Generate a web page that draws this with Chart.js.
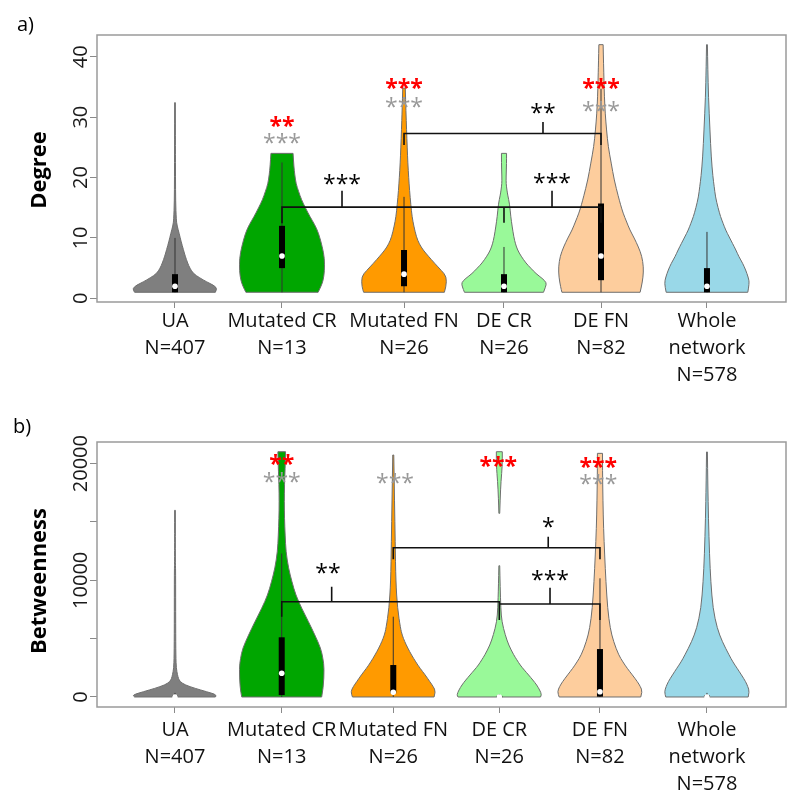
<!DOCTYPE html>
<html>
<head>
<meta charset="utf-8">
<script src="https://cdn.jsdelivr.net/npm/chart.js@4.4.1/dist/chart.umd.min.js"></script>
<style>
  body { margin: 0; background: #fff; width: 800px; height: 800px; position: relative; overflow: hidden; }
  canvas { position: absolute; left: 0; }
</style>
</head>
<body>
<canvas id="degreeChart" width="800" height="400" style="top:0"></canvas>
<canvas id="betweenChart" width="800" height="400" style="top:400px"></canvas>
<script>
// groups
const groupLabels = [
  ["UA", "N=407"],
  ["Mutated CR", "N=13"],
  ["Mutated FN", "N=26"],
  ["DE CR", "N=26"],
  ["DE FN", "N=82"],
  ["Whole", "network", "N=578"],
];
const groupColors = ["#7f7f7f", "#00a600", "#ff9a00", "#99f999", "#fdcd9d", "#99d8e8"];

// Degree: density profiles [value, relative width]
const degreeUA = [[1, 0.95], [1.6, 1.0], [2.2, 0.9], [2.7, 0.75], [3.4, 0.58], [4.1, 0.43], [5, 0.35], [5.8, 0.3], [7, 0.24], [8, 0.2], [9.5, 0.14], [10.7, 0.1], [12, 0.05], [13, 0.03], [16, 0.015], [20, 0.012], [25, 0.01], [32.4, 0.008]];
const degreeCR = [[1, 0.85], [2, 0.92], [3, 0.97], [4.5, 1.0], [6.6, 1.0], [8.5, 0.95], [10.8, 0.86], [12.2, 0.77], [13.5, 0.66], [15, 0.55], [16.3, 0.46], [17.7, 0.39], [19, 0.33], [20.5, 0.3], [21.8, 0.28], [24, 0.26]];
const degreeFN = [[1, 0.95], [1.9, 0.99], [3.6, 1.0], [4.6, 0.88], [5.8, 0.72], [7, 0.57], [8, 0.45], [9, 0.36], [10.2, 0.29], [12, 0.23], [13.5, 0.19], [15.5, 0.16], [17.9, 0.13], [20, 0.11], [22.4, 0.09], [25, 0.075], [27.9, 0.06], [31, 0.045], [34.8, 0.03]];
const degreeDECR = [[1, 0.93], [1.9, 0.98], [2.6, 1.0], [3.3, 0.9], [4.1, 0.75], [5, 0.63], [5.8, 0.52], [7, 0.4], [8, 0.32], [9, 0.27], [10.2, 0.23], [12, 0.19], [13.5, 0.16], [15.7, 0.13], [17, 0.09], [17.9, 0.07], [19, 0.05], [20.1, 0.05], [22.4, 0.06], [24, 0.06]];
const degreeDEFN = [[1, 0.92], [1.9, 0.95], [3.5, 0.99], [5.2, 1.0], [7, 0.96], [8.5, 0.88], [10, 0.78], [11.3, 0.68], [12.7, 0.6], [14.1, 0.52], [15.5, 0.46], [16.8, 0.41], [19.6, 0.31], [22.4, 0.24], [25.1, 0.17], [27.9, 0.13], [30.5, 0.1], [33.4, 0.08], [36, 0.07], [38.9, 0.06], [42, 0.05]];
const degreeWhole = [[1, 0.96], [2.5, 1.0], [3.5, 0.97], [4.7, 0.91], [5.8, 0.84], [6.9, 0.75], [8, 0.68], [9.1, 0.6], [10.2, 0.52], [11.3, 0.44], [12.4, 0.38], [13.5, 0.32], [15, 0.26], [16.8, 0.2], [18.5, 0.17], [20.1, 0.14], [23.4, 0.1], [27.9, 0.07], [33.4, 0.035], [38, 0.02], [42, 0.01]];
const degreeQ1 = [1, 5, 2, 1, 3, 1];
const degreeQ3 = [4, 12, 8, 4, 15.7, 5];
const degreeMedian = [2, 7, 4, 2, 7, 2];
const degreeWhiskerLow = [1, 1, 1, 1, 1, 1];
const degreeWhiskerHigh = [10, 22.5, 16.8, 8.5, 34.7, 11];
const degreeTicks = [0, 10, 20, 30, 40];

// Betweenness: density profiles [value, relative width]
const betweenUA = [[0, 0.95], [170, 1.0], [457, 0.74], [743, 0.47], [1030, 0.24], [1314, 0.12], [1600, 0.08], [1885, 0.06], [2460, 0.03], [3500, 0.02], [6000, 0.016], [11000, 0.015], [11500, 0.008], [16000, 0.008]];
const betweenCR = [[0, 0.94], [800, 0.98], [2460, 1.0], [3300, 0.97], [4170, 0.92], [5313, 0.78], [6454, 0.63], [7600, 0.47], [8740, 0.33], [9880, 0.24], [11030, 0.16], [12450, 0.1], [13880, 0.08], [15300, 0.065], [16740, 0.06], [18200, 0.065], [19600, 0.08], [21020, 0.09]];
const betweenFN = [[0, 0.96], [457, 1.0], [900, 0.94], [1314, 0.86], [1900, 0.75], [2460, 0.63], [3000, 0.53], [3600, 0.43], [4200, 0.34], [4740, 0.27], [5300, 0.21], [5890, 0.17], [7600, 0.1], [9880, 0.06], [13310, 0.045], [16740, 0.03], [20740, 0.012]];
const betweenDECR = [[0, 0.97], [170, 1.0], [600, 0.95], [1030, 0.88], [1450, 0.79], [1885, 0.69], [2300, 0.59], [2740, 0.49], [3200, 0.41], [3600, 0.34], [4456, 0.22], [5313, 0.14], [6450, 0.06], [7600, 0.035], [9500, 0.02], [11250, 0.01], [11300, 0], [15700, 0], [15740, 0.01], [17000, 0.02], [18500, 0.04], [19800, 0.07], [21020, 0.07]];
const betweenDEFN = [[0, 0.96], [457, 1.0], [900, 0.95], [1314, 0.88], [1900, 0.76], [2460, 0.64], [3000, 0.54], [3600, 0.44], [4740, 0.32], [5890, 0.24], [7600, 0.18], [9880, 0.14], [12170, 0.11], [14460, 0.085], [16740, 0.07], [19600, 0.06], [20880, 0.06]];
const betweenWhole = [[0, 0.97], [457, 1.0], [900, 0.96], [1314, 0.91], [1900, 0.81], [2460, 0.71], [3000, 0.61], [3600, 0.52], [4740, 0.36], [5890, 0.24], [7600, 0.14], [9880, 0.09], [12170, 0.06], [15310, 0.035], [18170, 0.02], [21000, 0.01]];
const betweenQ1 = [0, 170, 320, 0, 30, 0];
const betweenQ3 = [150, 5116, 2740, 100, 4110, 150];
const betweenMedian = [0, 2031, 400, 0, 450, 0];
const betweenWhiskerLow = [0, 0, 0, 0, 0, 0];
const betweenWhiskerHigh = [350, 12300, 6880, 250, 10170, 350];
const betweenTicks = [0, 5000, 10000, 15000, 20000];
const betweenTickLabels = ["0", "", "10000", "", "20000"];

// layout (x axis units 0..10)
const degreeXPos = [1.132, 2.685, 4.456, 5.907, 7.315, 8.853];
const betweenXPos = [1.132, 2.681, 4.300, 5.839, 7.300, 8.853];
const violinHalfWidth = 0.617;

// significance brackets: horizontal [x1, x2, y], vertical [x, y1, y2]
const degreeLinesH = [[2.685, 7.315, 15.1], [4.456, 7.315, 27.3]];
const degreeLinesV = [[2.685, 15.1, 12.45], [5.907, 15.1, 12.5], [7.315, 15.1, 12.5], [3.556, 15.1, 17.8], [6.604, 15.1, 17.8], [4.456, 27.3, 25.4], [7.315, 27.3, 25.4], [6.473, 27.3, 29.2]];
const degreeStars = [
  [3.556, 19.6, "***", "#000"], [6.604, 19.9, "***", "#000"], [6.473, 31.5, "**", "#000"],
  [2.685, 29.2, "**", "#ff0000"], [2.685, 26.5, "***", "#999"],
  [4.456, 35.6, "***", "#ff0000"], [4.456, 32.4, "***", "#999"],
  [7.315, 35.6, "***", "#ff0000"], [7.315, 31.8, "***", "#999"],
];
const betweenLinesH = [[2.681, 5.839, 8167], [5.839, 7.300, 7970], [4.300, 7.300, 12795]];
const betweenLinesV = [[2.681, 8167, 6882], [5.839, 8167, 6599], [7.300, 7970, 6599], [3.406, 8167, 9453], [6.575, 7970, 9367], [4.300, 12795, 11800], [7.300, 12795, 11800], [6.549, 12795, 13738]];
const betweenStars = [
  [3.353, 11055, "**", "#000"], [6.575, 10455, "***", "#000"], [6.549, 14972, "*", "#000"],
  [2.681, 20311, "**", "#ff0000"], [2.681, 18794, "***", "#999"],
  [4.325, 18743, "***", "#999"],
  [5.823, 20165, "***", "#ff0000"],
  [7.276, 20114, "***", "#ff0000"], [7.276, 18657, "***", "#999"],
];

function smoothThrough(ctx, pts) {
  for (let i = 1; i < pts.length - 1; i++) {
    const mx = (pts[i][0] + pts[i + 1][0]) / 2;
    const my = (pts[i][1] + pts[i + 1][1]) / 2;
    ctx.quadraticCurveTo(pts[i][0], pts[i][1], mx, my);
  }
  const last = pts[pts.length - 1];
  ctx.lineTo(last[0], last[1]);
}

function drawViolin(ctx, ys, cx, profile, halfW, color) {
  const runs = [];
  let cur = [];
  profile.forEach(p => {
    if (p[1] > 0) cur.push(p);
    else { if (cur.length) runs.push(cur); cur = []; }
  });
  if (cur.length) runs.push(cur);
  runs.forEach(run => {
    const right = run.map(([v, d]) => [cx + d * halfW, ys.getPixelForValue(v)]);
    const left = run.map(([v, d]) => [cx - d * halfW, ys.getPixelForValue(v)]).reverse();
    ctx.beginPath();
    ctx.moveTo(left[left.length - 1][0], left[left.length - 1][1]);
    ctx.lineTo(right[0][0], right[0][1]);
    smoothThrough(ctx, right);
    ctx.lineTo(left[0][0], left[0][1]);
    smoothThrough(ctx, left);
    ctx.closePath();
    ctx.fillStyle = color;
    ctx.fill();
    ctx.strokeStyle = "#6e6e6e";
    ctx.lineWidth = 1;
    ctx.stroke();
  });
}

function starText(ctx, text, cx, cy) {
  const m = ctx.measureText(text);
  const base = cy + (m.actualBoundingBoxAscent - m.actualBoundingBoxDescent) / 2;
  ctx.fillText(text, cx, base);
}

function makePlugin(cfg) {
  return {
    id: "violins",
    beforeDatasetsDraw(chart) {
      const { ctx, scales: { x, y } } = chart;
      const halfW = x.getPixelForValue(violinHalfWidth) - x.getPixelForValue(0);
      ctx.save();
      cfg.profiles.forEach((prof, i) => {
        drawViolin(ctx, y, x.getPixelForValue(cfg.xPos[i]), prof, halfW, groupColors[i]);
      });
      cfg.xPos.forEach((xp, i) => {
        const cx = x.getPixelForValue(xp);
        ctx.strokeStyle = "#333";
        ctx.lineWidth = 1;
        ctx.beginPath();
        ctx.moveTo(cx, y.getPixelForValue(cfg.wLow[i]));
        ctx.lineTo(cx, y.getPixelForValue(cfg.wHigh[i]));
        ctx.stroke();
        const t = y.getPixelForValue(cfg.q3[i]);
        const b = y.getPixelForValue(cfg.q1[i]);
        ctx.fillStyle = "#000";
        ctx.fillRect(cx - 3, t, 6, Math.max(b - t, 1.5));
      });
      ctx.restore();
    },
    afterDatasetsDraw(chart) {
      const { ctx, scales: { x, y } } = chart;
      ctx.save();
      ctx.strokeStyle = "#111";
      ctx.lineWidth = 1.6;
      ctx.beginPath();
      cfg.linesH.forEach(([x1, x2, v]) => {
        const py = y.getPixelForValue(v);
        ctx.moveTo(x.getPixelForValue(x1) - 0.8, py);
        ctx.lineTo(x.getPixelForValue(x2) + 0.8, py);
      });
      cfg.linesV.forEach(([xv, v1, v2]) => {
        const px = x.getPixelForValue(xv);
        ctx.moveTo(px, y.getPixelForValue(v1));
        ctx.lineTo(px, y.getPixelForValue(v2));
      });
      ctx.stroke();
      ctx.textAlign = "center";
      cfg.stars.forEach(([xv, v, text, color]) => {
        ctx.fillStyle = color;
        ctx.font = (color === "#ff0000" ? "bold " : "") + "23px 'Open Sans'";
        starText(ctx, text, x.getPixelForValue(xv), y.getPixelForValue(v));
      });
      ctx.restore();
    },
    afterDraw(chart) {
      const { ctx, chartArea: a, scales: { y } } = chart;
      ctx.save();
      ctx.strokeStyle = "#9a9a9a";
      ctx.lineWidth = 1.5;
      ctx.strokeRect(a.left, a.top, a.right - a.left, a.bottom - a.top);
      ctx.fillStyle = "#1a1a1a";
      ctx.font = "20px 'Open Sans'";
      ctx.textAlign = "center";
      ctx.textBaseline = "middle";
      cfg.ticks.forEach((t, i) => {
        const label = cfg.tickLabels[i];
        if (!label) return;
        ctx.save();
        ctx.translate(81.5, y.getPixelForValue(t));
        ctx.rotate(-Math.PI / 2);
        ctx.fillText(label, 0, 0);
        ctx.restore();
      });
      ctx.font = "bold 22px 'Open Sans'";
      ctx.fillStyle = "#000";
      ctx.save();
      ctx.translate(40, cfg.titleY);
      ctx.rotate(-Math.PI / 2);
      ctx.fillText(cfg.title, 0, 0);
      ctx.restore();
      ctx.font = "20px 'Open Sans'";
      ctx.textAlign = "left";
      ctx.fillText(cfg.panel, cfg.panelX, cfg.panelY);
      ctx.restore();
    },
  };
}

function makeChart(id, cfg) {
  new Chart(document.getElementById(id), {
    type: "scatter",
    data: {
      datasets: [{
        data: cfg.xPos.map((xp, i) => ({ x: xp, y: cfg.median[i] })),
        pointRadius: 2.8,
        pointBackgroundColor: "#ffffff",
        pointBorderWidth: 0,
      }],
    },
    options: {
      responsive: false,
      animation: false,
      events: [],
      layout: { padding: { top: cfg.top, right: 14, left: 0, bottom: 0 } },
      plugins: { legend: { display: false }, tooltip: { enabled: false } },
      scales: {
        x: {
          type: "linear",
          min: 0,
          max: 10,
          afterBuildTicks: s => { s.ticks = cfg.xPos.map(v => ({ value: v })); },
          afterFit: s => { s.height = cfg.xHeight; },
          border: { display: false },
          grid: { drawOnChartArea: false, drawTicks: true, tickLength: 6, color: "#8a8a8a" },
          ticks: {
            autoSkip: false,
            maxRotation: 0,
            minRotation: 0,
            padding: cfg.labelPad,
            color: "#111",
            font: { family: "'Open Sans'", size: 20, lineHeight: 1.35 },
            callback: (v, i) => groupLabels[i],
          },
        },
        y: {
          type: "linear",
          min: cfg.yMin,
          max: cfg.yMax,
          afterBuildTicks: s => { s.ticks = cfg.ticks.map(v => ({ value: v })); },
          afterFit: s => { s.width = 97; },
          border: { display: false },
          grid: { drawOnChartArea: false, drawTicks: true, tickLength: 7, color: "#8a8a8a" },
          ticks: { display: false },
        },
      },
    },
    plugins: [makePlugin(cfg)],
  });
}

makeChart("degreeChart", {
  profiles: [degreeUA, degreeCR, degreeFN, degreeDECR, degreeDEFN, degreeWhole],
  xPos: degreeXPos,
  q1: degreeQ1, q3: degreeQ3, median: degreeMedian,
  wLow: degreeWhiskerLow, wHigh: degreeWhiskerHigh,
  ticks: degreeTicks, tickLabels: degreeTicks.map(String),
  linesH: degreeLinesH, linesV: degreeLinesV, stars: degreeStars,
  yMin: -0.61, yMax: 43.6,
  top: 35, xHeight: 98, labelPad: 0,
  title: "Degree", titleY: 170,
  panel: "a)", panelX: 17, panelY: 25,
});

makeChart("betweenChart", {
  profiles: [betweenUA, betweenCR, betweenFN, betweenDECR, betweenDEFN, betweenWhole],
  xPos: betweenXPos,
  q1: betweenQ1, q3: betweenQ3, median: betweenMedian,
  wLow: betweenWhiskerLow, wHigh: betweenWhiskerHigh,
  ticks: betweenTicks, tickLabels: betweenTickLabels,
  linesH: betweenLinesH, linesV: betweenLinesV, stars: betweenStars,
  yMin: -857, yMax: 21853,
  top: 42, xHeight: 93, labelPad: 4,
  title: "Betweenness", titleY: 181,
  panel: "b)", panelX: 13, panelY: 27,
});
</script>
</body>
</html>
